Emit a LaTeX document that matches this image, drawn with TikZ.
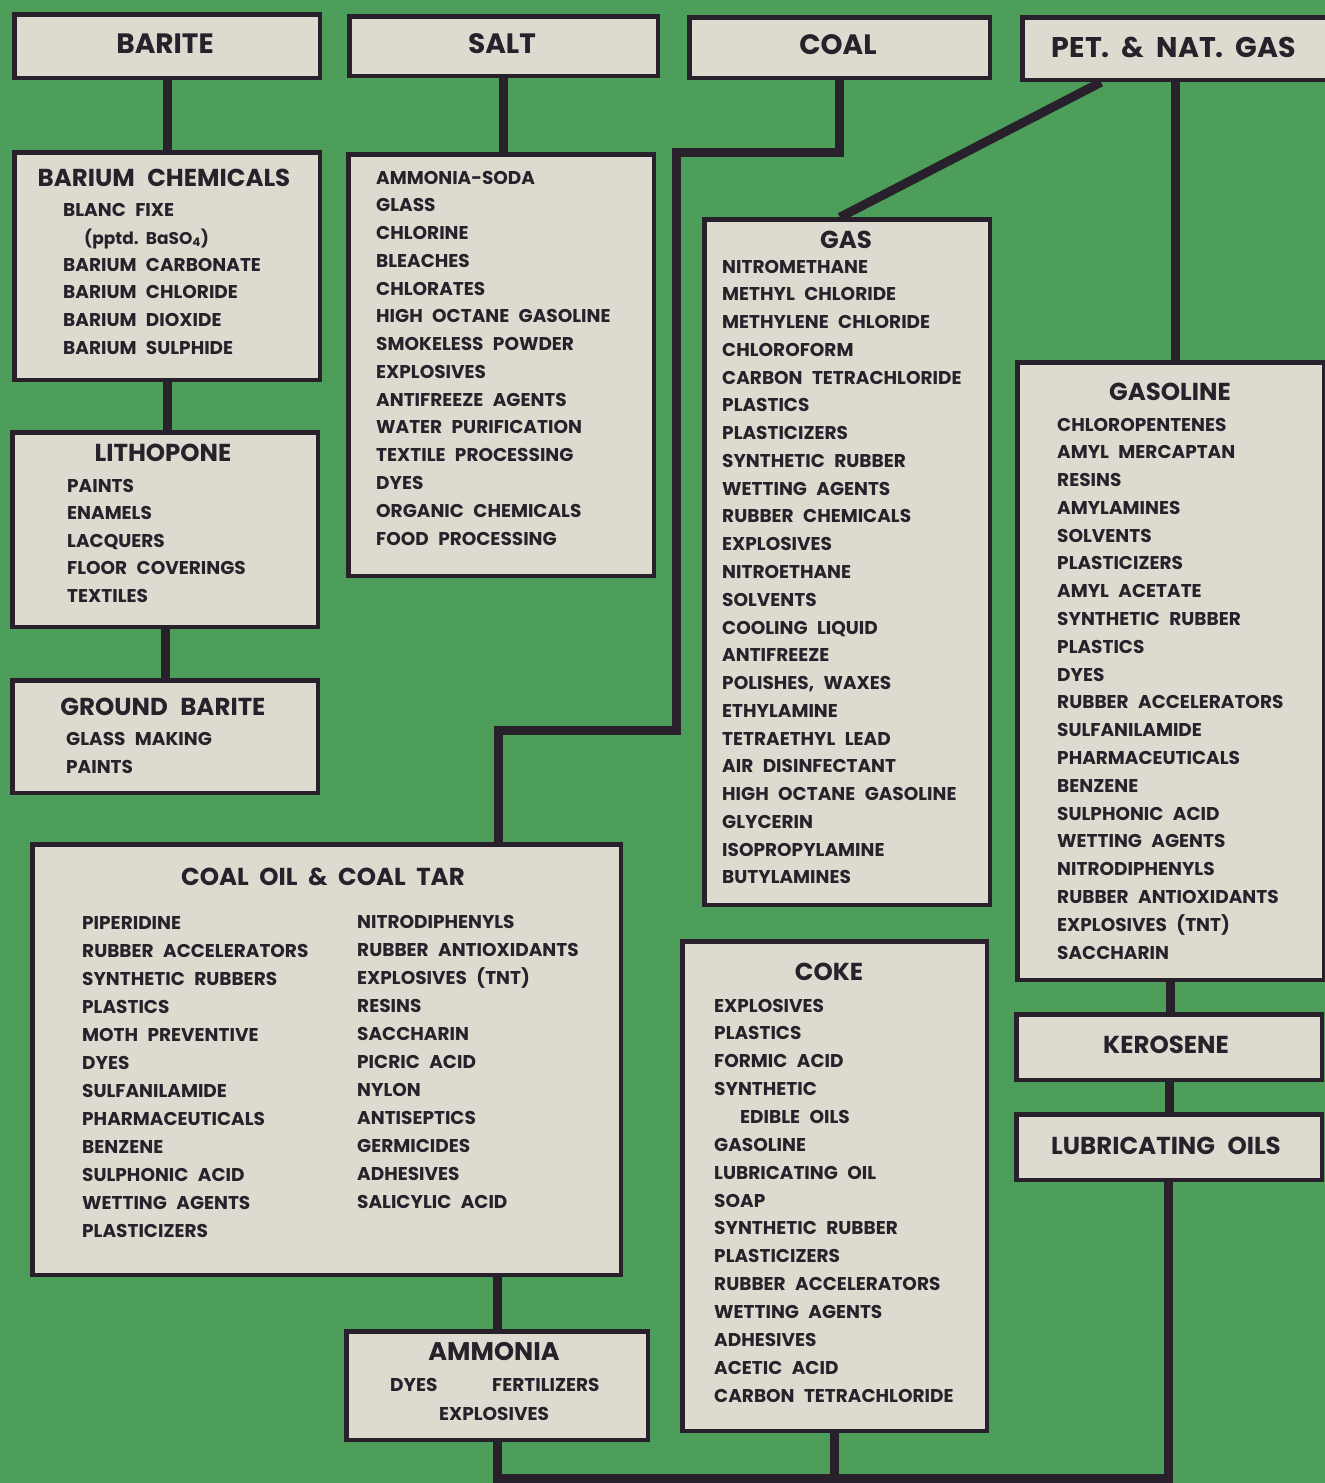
\documentclass[tikz,border=0pt]{standalone}
\usepackage{fontspec}
\setmainfont{Poppins}[WordSpace=2.4]
\definecolor{bg}{RGB}{76,158,90}
\definecolor{paper}{RGB}{221,219,207}
\definecolor{ink}{RGB}{40,32,42}
\newcommand\petfnt{\fontsize{28.5}{32}\selectfont\bfseries\spaceskip 12pt\relax}
\newcommand\coaloilfnt{\fontsize{24.5}{28}\selectfont\bfseries\spaceskip 10.5pt\relax}
\newcommand\pptdfnt{\fontsize{17}{20}\selectfont\bfseries\spaceskip 6pt\relax}
\tikzset{
  box/.style={draw=ink, line width=4.5pt, fill=paper, anchor=north west, inner sep=0pt, xshift=2.25pt, yshift=-2.25pt},
  conn/.style={draw=ink, line width=9pt, line join=miter},
  item/.style={text=ink, inner sep=0pt, anchor=base west, font=\fontsize{18.5}{22}\selectfont\bfseries},
  ttl/.style={text=ink, inner sep=0pt, anchor=base, font=\fontsize{24.5}{28}\selectfont\bfseries},
  topttl/.style={text=ink, inner sep=0pt, anchor=base, font=\fontsize{28}{32}\selectfont\bfseries},
}
\begin{document}
\begin{tikzpicture}[x=1pt,y=-1pt]
\useasboundingbox (0,0) rectangle (1325,1483);
\fill[bg] (0,0) rectangle (1325,1483);

% ---------- boxes ----------
\node[box, minimum width=305.5pt, minimum height=63.5pt] (barite) at (10,10) {};
\node[box, minimum width=308.5pt, minimum height=59.5pt] (salt) at (345,12) {};
\node[box, minimum width=300.5pt, minimum height=60.5pt] (coal) at (685,13) {};
\node[box, minimum width=312pt, minimum height=62.5pt] (pet) at (1018,13) {};
\node[box, minimum width=305.5pt, minimum height=227.5pt] (bachem) at (10,148) {};
\node[box, minimum width=305.5pt, minimum height=421.5pt] (saltlist) at (344,150) {};
\node[box, minimum width=305.5pt, minimum height=194.5pt] (litho) at (8,428) {};
\node[box, minimum width=305.5pt, minimum height=112.5pt] (ground) at (8,676) {};
\node[box, minimum width=285.5pt, minimum height=685.5pt] (gas) at (700,215) {};
\node[box, minimum width=306.5pt, minimum height=617.5pt] (gasoline) at (1013,358) {};
\node[box, minimum width=588.5pt, minimum height=430.5pt] (coaloil) at (28,840) {};
\node[box, minimum width=304.5pt, minimum height=489.5pt] (coke) at (678,937) {};
\node[box, minimum width=305.5pt, minimum height=65.5pt] (kero) at (1012,1010) {};
\node[box, minimum width=305.5pt, minimum height=65.5pt] (lube) at (1012,1110) {};
\node[box, minimum width=301.5pt, minimum height=108.5pt] (ammonia) at (342,1327) {};

% ---------- connectors ----------
\coordinate (c1) at (676,152);
\coordinate (c2) at (676,730);
\coordinate (c3) at (498,730);
\coordinate (dtop) at (1101,0);
\coordinate (dbot) at (840,0);
\coordinate (pv) at (1175,0);
\coordinate (bot) at (1168,1478);

\draw[conn] (barite.south) -- (barite.south |- bachem.north);
\draw[conn] (bachem.south) -- (bachem.south |- litho.north);
\draw[conn] (litho.south) -- (litho.south |- ground.north);
\draw[conn] (salt.south) -- (salt.south |- saltlist.north);
\draw[conn] (coal.south) |- (c1) -- (c2) -- (c3) -- (c3 |- coaloil.north);
\draw[conn] (pet.south -| dtop) -- (gas.north -| dbot);
\draw[conn] (pet.south -| pv) -- (pv |- gasoline.north);
\draw[conn] (gasoline.south) -- (gasoline.south |- kero.north);
\draw[conn] (kero.south) -- (kero.south |- lube.north);
\draw[conn] (ammonia.north |- coaloil.south) -- (ammonia.north);
\draw[conn] (ammonia.south) |- (bot) -- (bot |- lube.south);
\draw[conn] (coke.south) -- (coke.south |- bot);

% ---------- top titles ----------
\node[topttl] (tbarite) at (165,53) {BARITE};
\node[topttl] (tsalt) at (502,53) {SALT};
\node[topttl] (tcoal) at (838,54) {COAL};
\node[topttl, font=\petfnt] (tpet) at (1174,57) {PET. \& NAT. GAS};

% ---------- barium chemicals ----------
\node[ttl] (tbachem) at (164,186) {BARIUM CHEMICALS};
\node[item] (bc0) at (63,216) {BLANC FIXE};
\node[item, font=\pptdfnt] (bc1) at (84,244) {(pptd. BaSO\textsubscript{4})};
\foreach \t [count=\i from 0] in {BARIUM CARBONATE, BARIUM CHLORIDE, BARIUM DIOXIDE, BARIUM SULPHIDE}
  \node[item] (bcx\i) at (63, 271+\i*27.8) {\t};

% ---------- salt ----------
\foreach \t [count=\i from 0] in {AMMONIA-SODA, GLASS, CHLORINE, BLEACHES, CHLORATES, HIGH OCTANE GASOLINE, SMOKELESS POWDER, EXPLOSIVES, ANTIFREEZE AGENTS, WATER PURIFICATION, TEXTILE PROCESSING, DYES, ORGANIC CHEMICALS, FOOD PROCESSING}
  \node[item] (sl\i) at (376, 184+\i*27.77) {\t};

% ---------- lithopone ----------
\node[ttl] (tlitho) at (163,461) {LITHOPONE};
\foreach \t [count=\i from 0] in {PAINTS, ENAMELS, LACQUERS, FLOOR COVERINGS, TEXTILES}
  \node[item] (li\i) at (67, 492+\i*27.5) {\t};

% ---------- ground barite ----------
\node[ttl] (tground) at (163,715) {GROUND BARITE};
\node[item] (gb0) at (66,745) {GLASS MAKING};
\node[item] (gb1) at (66,773) {PAINTS};

% ---------- gas ----------
\node[ttl] (tgas) at (846,248) {GAS};
\foreach \t [count=\i from 0] in {NITROMETHANE, METHYL CHLORIDE, METHYLENE CHLORIDE, CHLOROFORM, CARBON TETRACHLORIDE, PLASTICS, PLASTICIZERS, SYNTHETIC RUBBER, WETTING AGENTS, RUBBER CHEMICALS, EXPLOSIVES, NITROETHANE, SOLVENTS, COOLING LIQUID, ANTIFREEZE, {POLISHES, WAXES}, ETHYLAMINE, TETRAETHYL LEAD, AIR DISINFECTANT, HIGH OCTANE GASOLINE, GLYCERIN, ISOPROPYLAMINE, BUTYLAMINES}
  \node[item] (ga\i) at (722, 273+\i*27.77) {\t};

% ---------- gasoline ----------
\node[ttl] (tgasoline) at (1170,400) {GASOLINE};
\foreach \t [count=\i from 0] in {CHLOROPENTENES, AMYL MERCAPTAN, RESINS, AMYLAMINES, SOLVENTS, PLASTICIZERS, AMYL ACETATE, SYNTHETIC RUBBER, PLASTICS, DYES, RUBBER ACCELERATORS, SULFANILAMIDE, PHARMACEUTICALS, BENZENE, SULPHONIC ACID, WETTING AGENTS, NITRODIPHENYLS, RUBBER ANTIOXIDANTS, EXPLOSIVES (TNT), SACCHARIN}
  \node[item] (gl\i) at (1057, 431+\i*27.79) {\t};

% ---------- coal oil & coal tar ----------
\node[ttl, font=\coaloilfnt] (tcoaloil) at (323,885) {COAL OIL \& COAL TAR};
\foreach \t [count=\i from 0] in {PIPERIDINE, RUBBER ACCELERATORS, SYNTHETIC RUBBERS, PLASTICS, MOTH PREVENTIVE, DYES, SULFANILAMIDE, PHARMACEUTICALS, BENZENE, SULPHONIC ACID, WETTING AGENTS, PLASTICIZERS}
  \node[item] (col\i) at (82, 929+\i*28) {\t};
\foreach \t [count=\i from 0] in {NITRODIPHENYLS, RUBBER ANTIOXIDANTS, EXPLOSIVES (TNT), RESINS, SACCHARIN, PICRIC ACID, NYLON, ANTISEPTICS, GERMICIDES, ADHESIVES, SALICYLIC ACID}
  \node[item] (cor\i) at (357, 928+\i*28) {\t};

% ---------- coke ----------
\node[ttl] (tcoke) at (829,980) {COKE};
\foreach \t [count=\i from 0] in {EXPLOSIVES, PLASTICS, FORMIC ACID, SYNTHETIC}
  \node[item] (ck\i) at (714, 1012+\i*27.86) {\t};
\node[item] (ckedible) at (740, 1123.4) {EDIBLE OILS};
\foreach \t [count=\i from 5] in {GASOLINE, LUBRICATING OIL, SOAP, SYNTHETIC RUBBER, PLASTICIZERS, RUBBER ACCELERATORS, WETTING AGENTS, ADHESIVES, ACETIC ACID, CARBON TETRACHLORIDE}
  \node[item] (ck\i) at (714, 1012+\i*27.86) {\t};

% ---------- kerosene, lubricating oils ----------
\node[ttl] (tkero) at (1166,1053) {KEROSENE};
\node[ttl] (tlube) at (1166,1154) {LUBRICATING OILS};

% ---------- ammonia ----------
\node[ttl, font=\fontsize{25.5}{28}\selectfont\bfseries] (tammonia) at (494,1360) {AMMONIA};
\node[item] (am0) at (390,1391) {DYES};
\node[item] (am1) at (492,1391) {FERTILIZERS};
\node[item, anchor=base] (am2) at (494,1420) {EXPLOSIVES};
\end{tikzpicture}
\end{document}
